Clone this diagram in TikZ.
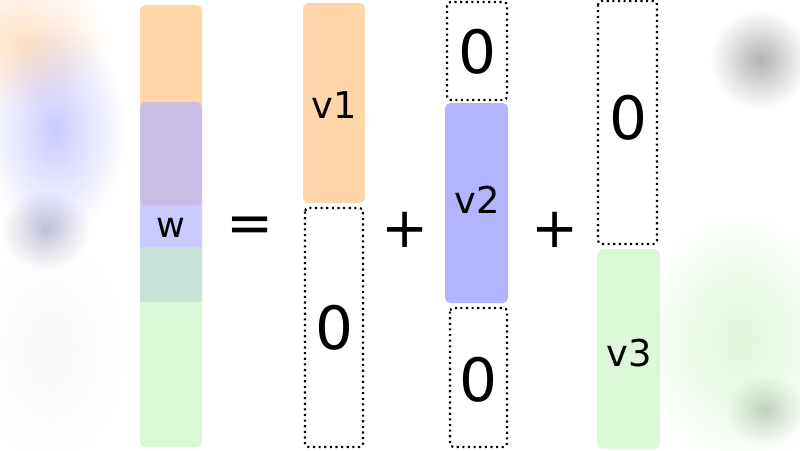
\documentclass[tikz,border=0pt]{standalone}
\usepackage{fontspec}
\setmainfont{DejaVu Sans}
\begin{document}
\begin{tikzpicture}[x=0.02cm,y=-0.02cm,
  dz/.style={draw=black,dotted,line width=1.2pt,rounded corners=2pt},
  bar/.style={rounded corners=3pt},
  big/.style={font=\fontsize{34}{34}\selectfont},
  mid/.style={font=\fontsize{21}{21}\selectfont},
  op/.style={font=\fontsize{32}{32}\selectfont}]
\useasboundingbox (0,0) rectangle (800,450);
\definecolor{cor}{HTML}{FFD5AA}
\definecolor{cpu}{HTML}{B3B3FF}
\definecolor{cgr}{HTML}{DDF8D8}
\definecolor{cte}{HTML}{C8E2D8}
% blurred background
\begin{scope}[blend mode=multiply]
\shade[inner color=cor!70,outer color=white] (20,40) ellipse (90 and 70);
\shade[inner color=cpu!70,outer color=white] (55,130) ellipse (70 and 110);
\shade[inner color=cpu!60!black!40,outer color=white] (45,230) ellipse (45 and 40);
\shade[inner color=cgr!80!black!10,outer color=white] (50,350) ellipse (80 and 120);
\shade[inner color=black!30,outer color=white] (760,60) ellipse (50 and 50);
\shade[inner color=cgr,outer color=white] (740,340) ellipse (100 and 130);
\shade[inner color=cgr!60!black!40,outer color=white] (765,410) ellipse (40 and 35);
\end{scope}
% w column
\fill[bar,cor] (140,5) rectangle (202,205);
\fill[bar,cpu,opacity=0.7] (140,102) rectangle (202,302);
\fill[bar,cgr] (140,247) rectangle (202,447);
\fill[cte] (140,247) rectangle (202,302);
\node[font=\fontsize{20}{20}\selectfont] (w) at (171,228) {w};
\node[op] (eq) at (250,230) {=};
% column 1
\fill[bar,cor] (303,3) rectangle (365,203);
\node[mid] (v1) at (334,105) {v1};
\draw[dz] (305,208) rectangle (363,447);
\node[big] (z1) at (334,328) {0};
\node[op] (p1) at (405,230) {+};
% column 2
\draw[dz] (447,2) rectangle (507,100);
\node[big] (z2) at (477,52) {0};
\fill[bar,cpu] (445,103) rectangle (508,303);
\node[mid] (v2) at (477,200) {v2};
\draw[dz] (450,308) rectangle (507,447);
\node[big] (z3) at (478,380) {0};
\node[op] (p2) at (555,230) {+};
% column 3
\draw[dz] (598,1) rectangle (657,244);
\node[big] (z4) at (628,118) {0};
\fill[bar,cgr] (597,249) rectangle (660,449);
\node[mid] (v3) at (629,353) {v3};
\end{tikzpicture}
\end{document}
